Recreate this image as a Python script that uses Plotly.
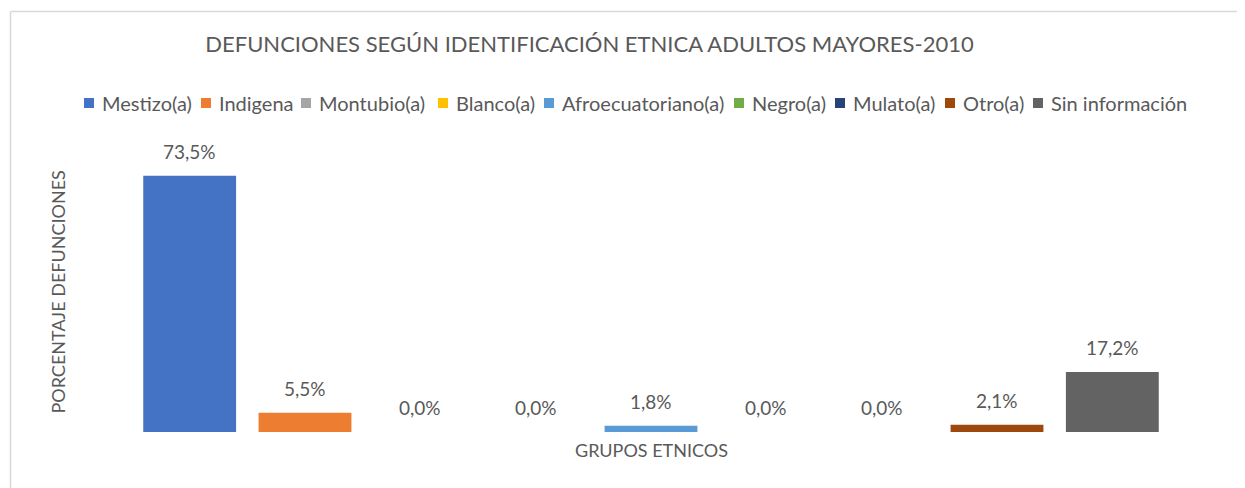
import plotly.graph_objects as go

categories = ["Mestizo(a)", "Indigena", "Montubio(a)", "Blanco(a)", "Afroecuatoriano(a)",
              "Negro(a)", "Mulato(a)", "Otro(a)", "Sin información"]
values = [73.5, 5.5, 0.0, 0.0, 1.8, 0.0, 0.0, 2.1, 17.2]
colors = ["#4472C4", "#ED7D31", "#A5A5A5", "#FFC000", "#5B9BD5",
          "#70AD47", "#264478", "#9E480E", "#636363"]
title_text = "DEFUNCIONES SEGÚN IDENTIFICACIÓN ETNICA ADULTOS MAYORES-2010"
y_title = "PORCENTAJE DEFUNCIONES"
x_title = "GRUPOS ETNICOS"

# layout constants (window pixel coordinates)
legend_text_left = [101, 218, 318, 455, 561, 751, 852, 962, 1050]
OFF = 8                      # page body margin
W, H = 1245 - OFF, 488 - OFF
L, R, T, B = 132, 1170, 153, 432  # plot area in window pixels
FONT = "Lato"
GREY = "#595959"


def px_x(p):
    return (p - L) / (R - L)


def px_y(p):
    return (B - p) / (B - T)


fig = go.Figure()
for c, v, col in zip(categories, values, colors):
    fig.add_trace(go.Bar(x=[c], y=[v], name=c, marker=dict(color=col, line=dict(width=0)),
                         hoverinfo="x+y", showlegend=False))

annotations = []
for c, v in zip(categories, values):
    annotations.append(dict(x=c, y=v, xref="x", yref="y", text=f"{v:.1f}%".replace(".", ","),
                            showarrow=False, yanchor="bottom", yshift=11,
                            font=dict(family=FONT, size=19, color=GREY)))
annotations.append(dict(x=px_x(57), y=0.5, xref="paper", yref="paper", text=y_title,
                        textangle=-90, showarrow=False, xanchor="center", yanchor="middle",
                        font=dict(family=FONT, size=18, color=GREY)))
annotations.append(dict(x=0.5, y=px_y(450), xref="paper", yref="paper", text=x_title,
                        showarrow=False, xanchor="center", yanchor="middle",
                        font=dict(family=FONT, size=18, color=GREY)))

shapes = [
    dict(type="line", xref="paper", yref="paper", x0=px_x(10.5), x1=px_x(1260),
         y0=px_y(11.5), y1=px_y(11.5), line=dict(color="#D9D9D9", width=1.5)),
    dict(type="line", xref="paper", yref="paper", x0=px_x(10.5), x1=px_x(10.5),
         y0=px_y(11.5), y1=px_y(500), line=dict(color="#D9D9D9", width=1.5)),
]

# custom legend (square + label)
LEG_Y = 103
SQ = 10
for name, col, tx in zip(categories, colors, legend_text_left):
    sx0 = tx - 17
    shapes.append(dict(type="rect", xref="paper", yref="paper",
                       x0=px_x(sx0), x1=px_x(sx0 + SQ),
                       y0=px_y(LEG_Y + SQ / 2), y1=px_y(LEG_Y - SQ / 2),
                       fillcolor=col, line=dict(width=0)))
    annotations.append(dict(x=px_x(tx), y=px_y(LEG_Y), xref="paper", yref="paper",
                            text=name, showarrow=False, xanchor="left", yanchor="middle",
                            borderpad=0,
                            font=dict(family=FONT, size=20, color=GREY)))

fig.update_layout(
    width=W, height=H,
    margin=dict(l=L - OFF, r=W - (R - OFF), t=T - OFF, b=H - (B - OFF), pad=0),
    paper_bgcolor="white", plot_bgcolor="white",
    barmode="overlay", bargap=0.195,
    showlegend=False,
    title=dict(text=title_text, x=px_x(589.5), xref="paper", xanchor="center",
               y=1 - (44 - OFF) / H, yref="container", yanchor="middle",
               font=dict(family=FONT, size=22, color=GREY)),
    xaxis=dict(showticklabels=False, showgrid=False, zeroline=False, showline=False,
               ticks="", categoryorder="array", categoryarray=categories),
    yaxis=dict(range=[0, 80], showticklabels=False, showgrid=False, zeroline=False,
               showline=False, ticks=""),
    annotations=annotations,
    shapes=shapes,
)

fig.write_html("out.html")
